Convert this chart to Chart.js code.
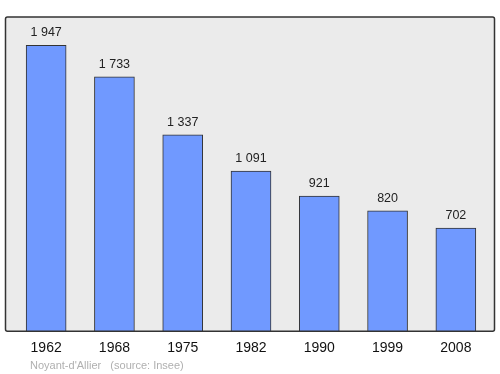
<!DOCTYPE html>
<html><head><meta charset="utf-8">
<script src="https://cdn.jsdelivr.net/npm/chart.js@4"></script>
<style>html,body{margin:0;padding:0;background:#fff}#w{width:500px;height:374px}</style>
</head><body><div id="w"><canvas id="c"></canvas></div>
<script>
const years = ['1962','1968','1975','1982','1990','1999','2008'];
const population = [1947, 1733, 1337, 1091, 921, 820, 702];
const valueLabels = ['1 947','1 733','1 337','1 091','921','820','702'];
const sourceText = "Noyant-d'Allier   (source: Insee)";

const framePlugin = {
  id: 'frame',
  beforeDatasetsDraw(chart) {
    const a = chart.chartArea, ctx = chart.ctx;
    ctx.save();
    const x0 = 5.5, x1 = 494.5, y0 = a.top, y1 = a.bottom;
    ctx.fillStyle = '#ebebeb';
    ctx.fillRect(x0, y0, x1 - x0, y1 - y0);
    ctx.restore();
  },
  afterDatasetsDraw(chart) {
    const a = chart.chartArea, ctx = chart.ctx;
    ctx.save();
    ctx.strokeStyle = '#333';
    ctx.lineWidth = 1.5;
    ctx.beginPath();
    ctx.roundRect ? ctx.roundRect(5.5, a.top, 489, a.bottom - a.top, 2) : ctx.rect(5.5, a.top, 489, a.bottom - a.top);
    ctx.stroke();
    const meta = chart.getDatasetMeta(0);
    ctx.fillStyle = '#222';
    ctx.font = '12.5px "Liberation Sans", Arial, sans-serif';
    ctx.textAlign = 'center';
    ctx.textBaseline = 'alphabetic';
    meta.data.forEach((bar, i) => {
      ctx.fillText(valueLabels[i], bar.x, bar.y - 9);
    });
    ctx.fillStyle = '#b0b0b0';
    ctx.font = '11px "Liberation Sans", Arial, sans-serif';
    ctx.textAlign = 'left';
    ctx.fillText(sourceText, 30, 369);
    ctx.restore();
  }
};

new Chart(document.getElementById('c'), {
  type: 'bar',
  data: {
    labels: years,
    datasets: [{
      data: population,
      backgroundColor: '#7099ff',
      borderColor: '#333',
      borderWidth: 1,
      borderSkipped: 'bottom',
      barThickness: 40
    }]
  },
  options: {
    responsive: true,
    maintainAspectRatio: false,
    animation: false,
    layout: { padding: { left: 12, right: 10, top: 17, bottom: 8 } },
    plugins: { legend: { display: false }, tooltip: { enabled: false } },
    scales: {
      x: {
        grid: { display: false, drawTicks: false },
        border: { display: false },
        ticks: { color: '#111', font: { size: 14, family: '"Liberation Sans", Arial, sans-serif' }, padding: 9 }
      },
      y: { display: false, min: 0, max: 2140 }
    }
  },
  plugins: [framePlugin]
});
</script></body></html>
